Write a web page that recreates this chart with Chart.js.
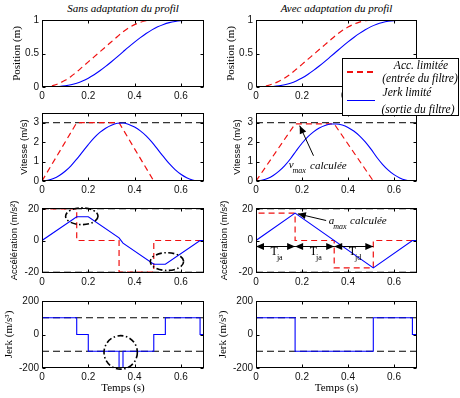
<!DOCTYPE html>
<html>
<head>
<meta charset="utf-8">
<script src="https://cdn.jsdelivr.net/npm/chart.js@4.4.1/dist/chart.umd.min.js"></script>
<style>
body { margin: 0; background: #fff; }
#wrap { position: relative; width: 460px; height: 398px; overflow: hidden; background: #fff; }
canvas { position: absolute; }
.title { position: absolute; top: 2px; height: 14px; line-height: 14px; text-align: center;
         font: italic 11px "Liberation Serif"; color: #000; }
.leg { position: absolute; z-index: 6; white-space: nowrap; text-align: center; width: 100px;
       height: 14px; line-height: 14px; font: italic 11.5px "Liberation Serif"; color: #000; }
.dash { position: absolute; z-index: 6; top: 71px; width: 6px; height: 1.5px; background: #f01010; }
</style>
</head>
<body>
<div id="wrap">
  <div class="title" style="left:42px; width:162px;">Sans adaptation du profil</div>
  <div class="title" style="left:256px; width:161px;">Avec adaptation du profil</div>

  <div style="position:absolute; z-index:5; left:342px; top:58px; width:117px; height:58px; box-sizing:border-box; border:1px solid #000; background:#fff;"></div>
  <div class="dash" style="left:347px;"></div>
  <div class="dash" style="left:357px;"></div>
  <div class="dash" style="left:367px;"></div>
  <div style="position:absolute; z-index:6; left:347px; top:100px; width:28px; height:1.2px; background:#0000ff;"></div>
  <div class="leg" style="left:371px; top:59px;">Acc. limitée</div>
  <div class="leg" style="left:370px; top:72px;">(entrée du filtre)</div>
  <div class="leg" style="left:357px; top:86px;">Jerk limité</div>
  <div class="leg" style="left:368px; top:103px;">(sortie du filtre)</div>
</div>
<script>
// time grid for the smooth curves (s)
const tGrid = [0, 0.025, 0.05, 0.075, 0.1, 0.125, 0.15, 0.175, 0.2, 0.225, 0.25, 0.275, 0.3, 0.325,
               0.35, 0.375, 0.4, 0.425, 0.45, 0.475, 0.5, 0.525, 0.55, 0.575, 0.6, 0.625, 0.65, 0.675, 0.7];

// --- Sans adaptation (left column)
const posRedL  = [0, 0.0063, 0.025, 0.0563, 0.1, 0.1563, 0.225, 0.3, 0.375, 0.45, 0.525, 0.6, 0.675, 0.75,
                  0.8222, 0.8826, 0.9306, 0.966, 0.9889, 0.9993, 1, 1, 1, 1, 1, 1, 1, 1, 1];
const posBlueL = [0, 0.0003, 0.0021, 0.007, 0.0167, 0.0326, 0.0563, 0.0891, 0.1313, 0.1826, 0.2417, 0.307, 0.3771, 0.4503,
                  0.5249, 0.5988, 0.6701, 0.7372, 0.7985, 0.8526, 0.8979, 0.9339, 0.9605, 0.9788, 0.9904, 0.9967, 0.9994, 1, 1];
const velBlueL = [0, 0.031, 0.125, 0.281, 0.5, 0.781, 1.125, 1.5, 1.875, 2.219, 2.5, 2.719, 2.875, 2.969,
                  2.986, 2.913, 2.778, 2.58, 2.319, 1.997, 1.625, 1.25, 0.889, 0.587, 0.347, 0.17, 0.056, 0.003, 0];
const tVelRedL = [0, 0.15, 0.333, 0.483, 0.7];
const velRedL  = [0, 3, 3, 0, 0];
const tAccRedL = [0, 0, 0.15, 0.15, 0.333, 0.333, 0.483, 0.483, 0.7];
const accRedL  = [0, 20, 20, 0, 0, -20, -20, 0, 0];
const tAccBlueL = [0, 0.15, 0.2, 0.333, 0.35, 0.483, 0.533, 0.683, 0.7];
const accBlueL  = [0, 15, 15, 1.7, -1.7, -15, -15, 0, 0];
const tJerkL = [0, 0, 0.15, 0.15, 0.2, 0.2, 0.333, 0.333, 0.35, 0.35, 0.483, 0.483, 0.533, 0.533, 0.683, 0.683, 0.7];
const jerkL  = [0, 100, 100, 0, 0, -100, -100, -200, -200, -100, -100, 0, 0, 100, 100, 0, 0];

// --- Avec adaptation (right column)
const posRedR  = [0, 0.0054, 0.0216, 0.0487, 0.0865, 0.1352, 0.1946, 0.2647, 0.3382, 0.4118, 0.4853, 0.5588, 0.6324, 0.7059,
                  0.7786, 0.8424, 0.8953, 0.9375, 0.9689, 0.9894, 0.9991, 1, 1, 1, 1, 1, 1, 1, 1];
const posBlueR = [0, 0.0003, 0.0021, 0.0072, 0.017, 0.0331, 0.0573, 0.0909, 0.1348, 0.1876, 0.2477, 0.3135, 0.3835, 0.456,
                  0.5293, 0.6022, 0.6728, 0.7395, 0.8009, 0.8553, 0.9011, 0.9368, 0.9627, 0.9804, 0.9913, 0.9972, 0.9995, 1, 1];
const velBlueR = [0, 0.032, 0.127, 0.286, 0.509, 0.795, 1.145, 1.556, 1.944, 2.269, 2.529, 2.726, 2.86, 2.93,
                  2.936, 2.878, 2.757, 2.573, 2.324, 2.013, 1.637, 1.223, 0.86, 0.561, 0.326, 0.154, 0.046, 0.001, 0];
const tVelRedR = [0, 0.17, 0.34, 0.51, 0.7];
const velRedR  = [0, 2.94, 2.94, 0, 0];
const tAccRedR = [0, 0, 0.17, 0.17, 0.34, 0.34, 0.51, 0.51, 0.7];
const accRedR  = [0, 17.3, 17.3, 0, 0, -17.3, -17.3, 0, 0];
const tAccBlueR = [0, 0.17, 0.51, 0.68, 0.7];
const accBlueR  = [0, 17.3, -17.3, 0, 0];
const tJerkR = [0, 0, 0.17, 0.17, 0.51, 0.51, 0.68, 0.68, 0.7];
const jerkR  = [0, 100, 100, -100, -100, 100, 100, 0, 0];

// limits (black dashed)
const vLimit = [3];
const aLimit = [20, -20];
const jLimit = [100, -100];

// ticks
const xTicks = [0, 0.2, 0.4, 0.6];
const posTicks = [0, 0.5, 1];
const velTicks = [0, 1, 2, 3];
const accTicks = [-20, 0, 20];
const jerkTicks = [-200, 0, 200];

const wrap = document.getElementById('wrap');
const tickFont = { family: 'Liberation Sans', size: 10 };
const serifFont = { family: 'Liberation Serif', size: 11 };
const sansFont = { family: 'Liberation Sans', size: 9.5 };

function pts(xs, ys) {
    return xs.map((x, i) => ({ x: x, y: ys[i] }));
}

function limitSets(levels) {
    return levels.map(l => ({
        data: pts([0, 0.7], [l, l]), borderColor: '#000', borderWidth: 1,
        borderDash: [7, 4], pointRadius: 0, order: 3
    }));
}

function redSet(xs, ys, smooth) {
    return {
        data: pts(xs, ys), borderColor: '#f01010', borderWidth: 1.2, borderDash: [6, 4],
        pointRadius: 0, tension: 0, cubicInterpolationMode: smooth ? 'monotone' : 'default', order: 2
    };
}

function blueSet(xs, ys, smooth) {
    return {
        data: pts(xs, ys), borderColor: '#0000ff', borderWidth: 1.1,
        pointRadius: 0, tension: 0, cubicInterpolationMode: smooth ? 'monotone' : 'default', order: 1
    };
}

// box around the axes + small inward ticks
const frame = {
    id: 'frame',
    afterDatasetsDraw(chart) {
        const a = chart.chartArea, ctx = chart.ctx;
        const l = Math.round(a.left) + 0.5, r = Math.round(a.right) - 0.5;
        const t = Math.round(a.top) + 0.5, b = Math.round(a.bottom) - 0.5;
        ctx.save();
        ctx.strokeStyle = '#000';
        ctx.lineWidth = 1;
        ctx.setLineDash([]);
        ctx.strokeRect(l, t, r - l, b - t);
        ctx.beginPath();
        chart.scales.x.ticks.forEach(tk => {
            const px = Math.round(chart.scales.x.getPixelForValue(tk.value)) + 0.5;
            ctx.moveTo(px, b); ctx.lineTo(px, b - 3);
            ctx.moveTo(px, t); ctx.lineTo(px, t + 3);
        });
        chart.scales.y.ticks.forEach(tk => {
            const py = Math.round(chart.scales.y.getPixelForValue(tk.value)) + 0.5;
            ctx.moveTo(l, py); ctx.lineTo(l + 3, py);
            ctx.moveTo(r, py); ctx.lineTo(r - 3, py);
        });
        ctx.stroke();
        ctx.restore();
    }
};

function arrowHead(ctx, x1, y1, x2, y2) {
    const ang = Math.atan2(y2 - y1, x2 - x1), len = 8, half = 3.5;
    const bx = x2 - len * Math.cos(ang), by = y2 - len * Math.sin(ang);
    ctx.beginPath();
    ctx.moveTo(x2, y2);
    ctx.lineTo(bx + half * Math.sin(ang), by - half * Math.cos(ang));
    ctx.lineTo(bx - half * Math.sin(ang), by + half * Math.cos(ang));
    ctx.closePath();
    ctx.fill();
}

function arrow(ctx, x1, y1, x2, y2) {
    ctx.beginPath();
    ctx.moveTo(x1, y1);
    ctx.lineTo(x2, y2);
    ctx.stroke();
    arrowHead(ctx, x1, y1, x2, y2);
}

function ellipse(chart, cx, cy, rx, ry) {
    const x = chart.scales.x, y = chart.scales.y, ctx = chart.ctx;
    const px = x.getPixelForValue(cx), py = y.getPixelForValue(cy);
    ctx.save();
    ctx.strokeStyle = '#000';
    ctx.lineWidth = 1.6;
    ctx.setLineDash([6, 2.5, 1.5, 2.5]);
    ctx.beginPath();
    ctx.ellipse(px, py, x.getPixelForValue(cx + rx) - px, py - y.getPixelForValue(cy + ry), 0, 0, Math.PI * 2);
    ctx.stroke();
    ctx.restore();
}

function subText(ctx, main, sub, px, py, italic, size) {
    const st = italic ? 'italic ' : '';
    ctx.font = st + size + 'px "Liberation Serif"';
    ctx.fillText(main, px, py);
    const w = ctx.measureText(main).width;
    ctx.font = st + '8px "Liberation Serif"';
    ctx.fillText(sub, px + w - 1, py + 6);
}

function accLeftNotes(chart) {
    ellipse(chart, 0.172, 15.3, 0.07, 5.3);
    ellipse(chart, 0.54, -13.3, 0.072, 5.6);
}

function jerkLeftNotes(chart) {
    ellipse(chart, 0.34, -107, 0.072, 100);
}

function velRightNotes(chart) {
    const x = chart.scales.x, y = chart.scales.y, ctx = chart.ctx;
    ctx.save();
    ctx.strokeStyle = '#000'; ctx.fillStyle = '#000'; ctx.lineWidth = 1;
    arrow(ctx, x.getPixelForValue(0.25), y.getPixelForValue(1.3), x.getPixelForValue(0.19), y.getPixelForValue(2.85));
    ctx.textBaseline = 'middle';
    subText(ctx, 'v', 'max', x.getPixelForValue(0.142), y.getPixelForValue(0.82), true, 11);
    ctx.font = 'italic 11px "Liberation Serif"';
    ctx.fillText('calculée', x.getPixelForValue(0.235), y.getPixelForValue(0.78));
    ctx.restore();
}

function accRightNotes(chart) {
    const x = chart.scales.x, y = chart.scales.y, ctx = chart.ctx;
    ctx.save();
    ctx.strokeStyle = '#000'; ctx.fillStyle = '#000'; ctx.lineWidth = 1;
    arrow(ctx, x.getPixelForValue(0.305), y.getPixelForValue(12.6), x.getPixelForValue(0.182), y.getPixelForValue(16.8));
    ctx.textBaseline = 'middle';
    subText(ctx, 'a', 'max', x.getPixelForValue(0.316), y.getPixelForValue(12.4), true, 11);
    ctx.font = 'italic 11px "Liberation Serif"';
    ctx.fillText('calculée', x.getPixelForValue(0.409), y.getPixelForValue(12.4));

    // T_ja / T_ja / T_jd double arrows
    const marks = [0, 0.17, 0.34, 0.51];
    const names = ['ja', 'ja', 'jd'];
    const ay = Math.round(y.getPixelForValue(-3.3)) + 0.5;
    for (let i = 0; i < 3; i++) {
        const xa = x.getPixelForValue(marks[i]), xb = x.getPixelForValue(marks[i + 1]);
        ctx.beginPath(); ctx.moveTo(xa, ay); ctx.lineTo(xb, ay); ctx.stroke();
        arrowHead(ctx, xb, ay, xa, ay);
        arrowHead(ctx, xa, ay, xb, ay);
        ctx.fillStyle = '#000';
        subText(ctx, 'T', names[i], (xa + xb) / 2 - 5, ay + 5.5, false, 12);
    }
    ctx.restore();
}

const leftCol = { left: 0, width: 230, yw: 42, padRight: 26, labelPad: [10.4, 18.3, 8.3, 2.4] };
const rightCol = { left: 212, width: 248, yw: 44, padRight: 43, labelPad: [12.4, 19.3, 6.3, 4.4] };

const rows = [
    { top: 10, h: 97, xh: 20, min: 0, max: 1, ticks: posTicks, label: 'Position (m)', font: serifFont },
    { top: 103, h: 98, xh: 20, min: 0, max: 3.5, ticks: velTicks, label: 'Vitesse (m/s)', font: sansFont },
    { top: 198, h: 95, xh: 20, min: -20.5, max: 20.5, ticks: accTicks, label: 'Accélération (m/s²)', font: sansFont },
    { top: 291, h: 107, xh: 30, min: -200, max: 200, ticks: jerkTicks, label: 'Jerk (m/s³)', font: serifFont, xTitle: 'Temps (s)' }
];

function makePlot(col, r, datasets, notes) {
    const row = rows[r];
    const cv = document.createElement('canvas');
    cv.width = col.width;
    cv.height = row.h;
    cv.style.left = col.left + 'px';
    cv.style.top = row.top + 'px';
    wrap.appendChild(cv);

    const plugins = [frame];
    if (notes) plugins.push({ id: 'notes', afterDraw: notes });

    new Chart(cv, {
        type: 'line',
        data: { datasets: datasets },
        plugins: plugins,
        options: {
            responsive: false,
            animation: false,
            devicePixelRatio: 1,
            layout: { padding: { left: 0, top: 10, right: col.padRight, bottom: 0 } },
            plugins: { legend: { display: false }, tooltip: { enabled: false } },
            scales: {
                x: {
                    type: 'linear', min: 0, max: 0.7,
                    grid: { display: false, drawTicks: false },
                    border: { display: false },
                    ticks: { padding: 3, color: '#111', font: tickFont, maxRotation: 0, autoSkip: false,
                             callback: v => String(v) },
                    afterBuildTicks: s => { s.ticks = xTicks.map(v => ({ value: v })); },
                    afterFit: s => { s.height = row.xh; },
                    title: row.xTitle
                        ? { display: true, text: row.xTitle, color: '#000', font: serifFont, padding: { top: 0, bottom: 3.4 } }
                        : { display: false }
                },
                y: {
                    type: 'linear', min: row.min, max: row.max,
                    grid: { display: false, drawTicks: false },
                    border: { display: false },
                    ticks: { padding: 3, color: '#111', font: tickFont, autoSkip: false,
                             callback: v => String(v) },
                    afterBuildTicks: s => { s.ticks = row.ticks.map(v => ({ value: v })); },
                    afterFit: s => { s.width = col.yw; },
                    title: { display: true, text: row.label, color: '#000', font: row.font,
                             padding: { top: col.labelPad[r], bottom: 0 } }
                }
            }
        }
    });
}

// left column
makePlot(leftCol, 0, [redSet(tGrid, posRedL, true), blueSet(tGrid, posBlueL, true)]);
makePlot(leftCol, 1, [redSet(tVelRedL, velRedL, false), blueSet(tGrid, velBlueL, true)].concat(limitSets(vLimit)));
makePlot(leftCol, 2, [redSet(tAccRedL, accRedL, false), blueSet(tAccBlueL, accBlueL, false)].concat(limitSets(aLimit)), accLeftNotes);
makePlot(leftCol, 3, [blueSet(tJerkL, jerkL, false)].concat(limitSets(jLimit)), jerkLeftNotes);

// right column
makePlot(rightCol, 0, [redSet(tGrid, posRedR, true), blueSet(tGrid, posBlueR, true)]);
makePlot(rightCol, 1, [redSet(tVelRedR, velRedR, false), blueSet(tGrid, velBlueR, true)].concat(limitSets(vLimit)), velRightNotes);
makePlot(rightCol, 2, [redSet(tAccRedR, accRedR, false), blueSet(tAccBlueR, accBlueR, false)].concat(limitSets(aLimit)), accRightNotes);
makePlot(rightCol, 3, [blueSet(tJerkR, jerkR, false)].concat(limitSets(jLimit)));
</script>
</body>
</html>
